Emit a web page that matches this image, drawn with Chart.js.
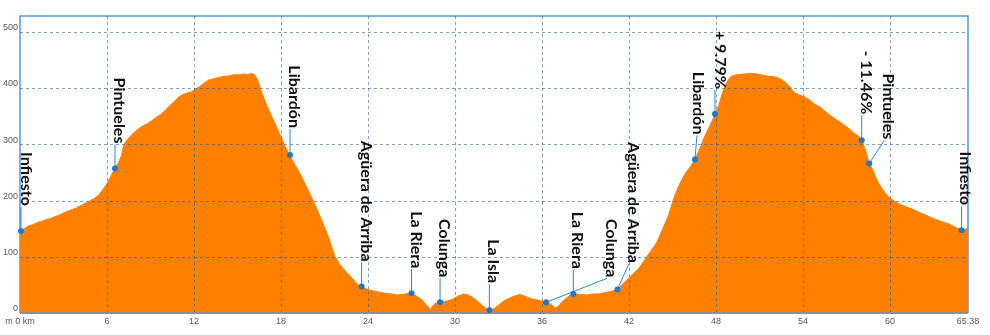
<!DOCTYPE html>
<html><head><meta charset="utf-8">
<script src="https://cdn.jsdelivr.net/npm/chart.js@4/dist/chart.umd.min.js"></script>
<style>html,body{margin:0;padding:0;background:#fff;overflow:hidden}</style>
</head><body>
<canvas id="c" width="990" height="335"></canvas>
<script>
// ---- data ----
const distanceKm = [0,0.3,0.6,0.9,1.2,1.5,1.8,2.1,2.4,2.7,3.0,3.3,3.6,3.9,4.2,4.5,4.8,5.1,5.4,5.7,6.0,6.3,6.55,6.8,7.0,7.15,7.3,7.6,7.9,8.2,8.5,8.8,9.1,9.4,9.7,10.0,10.3,10.6,10.9,11.2,11.5,11.8,12.1,12.4,12.7,13.0,13.3,13.6,13.9,14.2,14.5,14.8,15.1,15.4,15.7,16.0,16.2,16.4,16.7,17.0,17.4,17.7,18.05,18.3,18.6,19.0,19.4,19.8,20.3,20.8,21.3,21.7,22.0,22.3,22.6,22.9,23.2,23.5,23.8,24.1,24.4,24.8,25.2,25.6,26.0,26.4,26.8,27.1,27.4,27.7,28.0,28.3,28.5,28.7,29.0,29.4,29.8,30.2,30.6,30.9,31.2,31.6,31.9,32.2,32.4,32.7,33.0,33.4,33.8,34.2,34.5,34.9,35.3,35.7,36.0,36.3,36.6,36.9,37.1,37.4,37.7,38.0,38.3,38.7,39.1,39.5,39.9,40.3,40.7,41.0,41.3,41.6,41.9,42.3,42.7,43.1,43.5,43.9,44.3,44.7,45.1,45.5,45.9,46.2,46.55,46.9,47.2,47.6,47.95,48.2,48.45,48.7,49.0,49.3,49.6,50.0,50.4,50.8,51.2,51.6,52.0,52.4,52.8,53.1,53.4,53.7,54.0,54.4,54.8,55.2,55.6,56.0,56.4,56.8,57.2,57.5,57.8,58.05,58.3,58.55,58.8,59.1,59.4,59.7,60.0,60.4,60.8,61.2,61.6,62.0,62.4,62.8,63.2,63.6,64.0,64.4,64.8,65.1,65.38];
const elevationM = [145,150,155,157,161,163,166,168,171,174,178,181,184,187,191,195,199,203,209,219,230,245,257,268,280,298,305,314,322,328,333,337,342,348,353,360,368,375,383,388,391,393,398,403,409,414,416,418,420,421,422,424,423,425,424,426,423,413,390,370,347,330,310,295,280,262,243,222,195,165,133,102,88,79,70,62,53,46,44,41,39,37,35,34,32,33,35,34,29,24,15,6,14,18,20,21,24,30,34,32,28,20,13,7,5,8,14,22,27,31,33,29,25,23,21,19,16,9,11,20,27,33,34,33,32,34,34,36,38,40,45,52,60,70,80,95,110,125,148,172,205,230,249,259,273,293,313,334,354,370,392,408,420,423,424,425,426,425,423,421,420,417,410,402,392,388,385,380,371,366,357,349,342,335,327,320,315,307,290,268,255,236,223,212,204,197,192,188,184,179,175,170,166,162,159,154,149,148,151];
const xTickValues = [0,6,12,18,24,30,36,42,48,54,60,65.38];
const xTickLabels = ['m 0 km','6','12','18','24','30','36','42','48','54','60','65.38'];
const yTickValues = [0,100,200,300,400,500];
const markerNames = ['Infiesto','Pintueles','Libardón','Agüera de Arriba','La Riera','Colunga','La Isla','Colunga','La Riera','Agüera de Arriba','Libardón','+ 9.79%','- 11.46%','Pintueles','Infiesto'];
const markerKm = [0.07,6.55,18.62,23.56,27.0,28.97,32.37,36.28,38.16,41.2,46.55,47.93,58.05,58.57,64.94];
const markerElev = [146,257,281,47,35,19,5,19,34,42,273,354,307,266,147];

// ---- label layout (pixels) ----
const labelDx = [5,4.5,4,4.5,4.5,4,4,65,4,15.5,3,5,4.5,19,3.5];
const leaderDx = [0,0,0,0,0,0,0,61,0,11.5,2,0,0,15,0];
const labelGap = [25,25,27,25,25,25,27,25,25,26.5,25,25,26,24,25];

const FILL = '#ff8000';
const profile = distanceKm.map((x, i) => ({x, y: elevationM[i]}));

const decor = {
  id: 'decor',
  beforeDatasetsDraw(chart) {
    const {ctx, chartArea: a} = chart;
    ctx.save();
    ctx.strokeStyle = '#4f9bd6';
    ctx.lineWidth = 1.5;
    ctx.beginPath();
    ctx.moveTo(a.left, a.bottom); ctx.lineTo(a.left, a.top);
    ctx.lineTo(a.right, a.top); ctx.lineTo(a.right, a.bottom);
    ctx.stroke();
    ctx.restore();
  },
  afterDatasetsDraw(chart) {
    const {ctx, chartArea: a, scales} = chart;
    const xs = scales.x, ys = scales.y;
    ctx.save();
    // grid
    ctx.setLineDash([3, 3]);
    ctx.lineWidth = 1;
    ctx.strokeStyle = 'rgba(40,95,150,0.6)';
    xTickValues.forEach(v => {
      if (v === 0 || v === 65.38) return;
      const px = Math.round(xs.getPixelForValue(v)) + 0.5;
      ctx.beginPath(); ctx.moveTo(px, a.top); ctx.lineTo(px, a.bottom); ctx.stroke();
    });
    yTickValues.forEach(v => {
      if (v === 0) return;
      const py = Math.round(ys.getPixelForValue(v)) + 0.5;
      ctx.beginPath(); ctx.moveTo(a.left, py); ctx.lineTo(a.right, py); ctx.stroke();
    });
    ctx.setLineDash([]);
    // bottom axis
    ctx.strokeStyle = '#8f8f8f';
    ctx.lineWidth = 2;
    ctx.beginPath(); ctx.moveTo(a.left, a.bottom); ctx.lineTo(a.right, a.bottom); ctx.stroke();
    // markers
    markerNames.forEach((name, i) => {
      const px = xs.getPixelForValue(markerKm[i]);
      const py = ys.getPixelForValue(markerElev[i]);
      const textBottom = py - labelGap[i];
      ctx.strokeStyle = '#2f86d0';
      ctx.lineWidth = 1;
      ctx.beginPath();
      ctx.moveTo(px, py);
      ctx.lineTo(px + leaderDx[i], textBottom + 1);
      ctx.stroke();
      ctx.fillStyle = '#1f78cc';
      ctx.beginPath(); ctx.arc(px, py, 3, 0, Math.PI * 2); ctx.fill();
      ctx.save();
      ctx.translate(px + labelDx[i], textBottom);
      ctx.rotate(Math.PI / 2);
      ctx.fillStyle = '#111';
      ctx.font = 'bold 16px Lato';
      ctx.textAlign = 'right';
      ctx.textBaseline = 'middle';
      ctx.fillText(name, 0, 0);
      ctx.restore();
    });
    ctx.restore();
  }
};

new Chart(document.getElementById('c'), {
  type: 'line',
  data: { datasets: [{
    data: profile, fill: 'origin', backgroundColor: FILL, borderColor: FILL,
    borderWidth: 1, pointRadius: 0, tension: 0
  }]},
  options: {
    responsive: false, animation: false, devicePixelRatio: 1,
    layout: { padding: { top: 16, right: 22, left: 0, bottom: 0 } },
    plugins: { legend: { display: false }, tooltip: { enabled: false } },
    scales: {
      x: {
        type: 'linear', min: 0, max: 65.38,
        afterBuildTicks: s => { s.ticks = xTickValues.map(v => ({value: v})); },
        afterFit: s => { s.height = 22; },
        grid: { display: false, drawTicks: false },
        border: { display: false },
        ticks: {
          autoSkip: false, maxRotation: 0, padding: 3, color: '#555',
          font: { family: 'Liberation Sans', size: 9 },
          callback: (v, i) => xTickLabels[i]
        }
      },
      y: {
        min: 0, max: 528,
        afterBuildTicks: s => { s.ticks = yTickValues.map(v => ({value: v})); },
        afterFit: s => { s.width = 20; },
        grid: { display: false, drawTicks: false },
        border: { display: false },
        ticks: {
          padding: 2, labelOffset: -4, color: '#555',
          font: { family: 'Liberation Sans', size: 9 }
        }
      }
    }
  },
  plugins: [decor]
});
</script>
</body></html>
